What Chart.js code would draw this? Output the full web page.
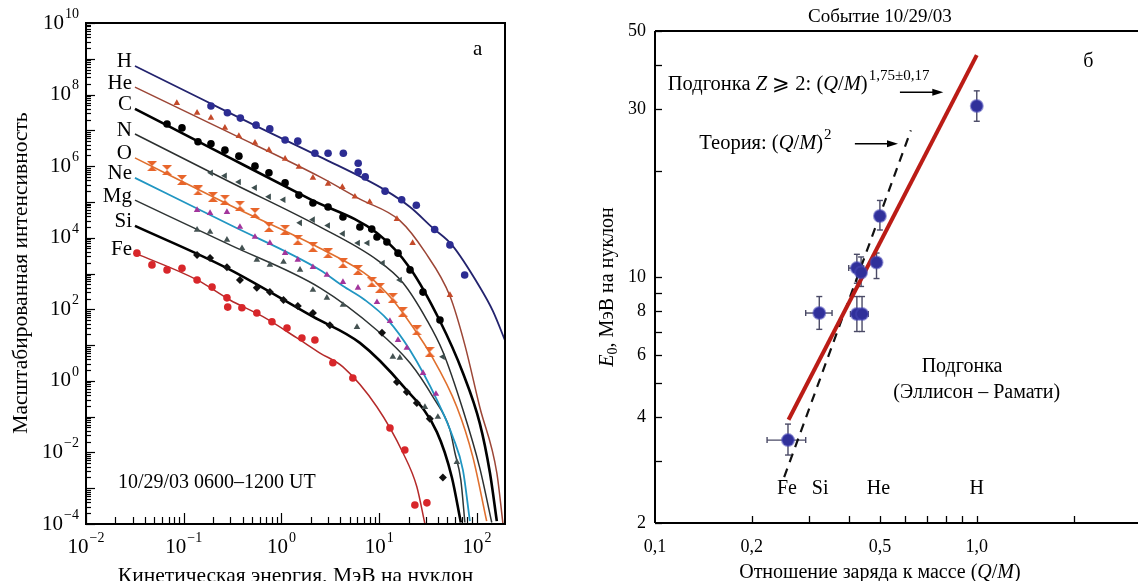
<!DOCTYPE html>
<html>
<head>
<meta charset="utf-8">
<script src="https://cdn.jsdelivr.net/npm/chart.js@4.4.1/dist/chart.umd.min.js"></script>
<style>
html, body { margin: 0; padding: 0; background: #fff; overflow: hidden; width: 1146px; height: 581px; }
canvas { position: absolute; top: 0; }
#left { left: 0; }
#right { left: 580px; }
</style>
</head>
<body>
<canvas id="left" width="560" height="581"></canvas>
<canvas id="right" width="566" height="581"></canvas>
<script>
// ---------- panel a: spectra, [energy MeV/n, scaled intensity] ----------
var elements = ['H', 'He', 'C', 'N', 'O', 'Ne', 'Mg', 'Si', 'Fe'];

// fitted curves
var hFit  = [[0.0317,6.3e8],[0.147,7.9e7],[0.603,1.17e7],[2.48,1.82e6],[11.5,2.14e5],[20.7,7.2e4],[35.5,1.86e4],[55.5,6.3e3],[107,420],[146,89],[200,11]];
var heFit = [[0.0317,1.62e8],[0.297,8.5e6],[2.48,5.0e5],[6.35,1.2e5],[16.3,3.0e4],[29.4,4.0e3],[53,234],[75.4,10],[107,0.186],[160,2.7e-3],[185,1.0e-4]];
var cFit  = [[0.0317,4.0e7],[0.297,1.7e6],[1.96,1.2e5],[9.5,1.35e4],[20.7,1.41e3],[41.9,47],[72,1.66],[107,0.066],[136,2.7e-3],[160,1.2e-4]];
var nFit  = [[0.0317,7.9e6],[0.297,3.6e5],[2.48,2.0e4],[9.5,2.4e3],[17.5,550],[30.8,50],[44.9,6.5],[72,0.155],[107,3.7e-3],[142,1.1e-4]];
var oFit  = [[0.0317,1.7e6],[0.297,8.1e4],[2.48,5.1e3],[8.04,794],[13.8,182],[22.1,32],[33,6.0],[62.4,0.186],[91,7.4e-3],[126,1.2e-4]];
var neFit = [[0.0317,4.7e5],[0.297,2.3e4],[2.48,1.26e3],[4.26,447],[7.15,182],[12.3,50],[20.7,7.2],[39,0.295],[56.8,0.027],[72,3.2e-3],[84.8,1.2e-4]];
var mgFit = [[0.0317,1.12e5],[0.297,6.3e3],[2.48,398],[9.5,26],[20.7,3.16],[35.5,0.355],[53,0.043],[59.6,9.8e-3],[68.5,1.7e-3],[75.4,1.1e-4]];
var siFit = [[0.0317,2.14e4],[0.277,1.41e3],[2.1,62],[6.35,11.5],[17.5,0.72],[39,0.037],[55.5,2.0e-3],[68.5,1.1e-4]];
var feFit = [[0.0317,3.7e3],[0.137,661],[0.297,182],[0.647,62],[1.44,15.8],[2.48,6.0],[4.26,2.45],[9.5,0.186],[17.5,9.8e-3],[24.3,1.1e-3],[29.4,1.0e-4]];

// measured points
var hPts  = [[0.19,4.8e7],[0.28,3.1e7],[0.38,2.2e7],[0.55,1.4e7],[0.76,1.1e7],[1.09,5.4e6],[1.47,5.0e6],[2.2,2.3e6],[3.0,2.3e6],[4.3,2.3e6],[6.1,1.2e6],[6.1,6.9e5],[7.2,5.0e5],[11.5,2.0e5],[17,1.15e5],[24,8.1e4],[37,1.7e4],[53,6.3e3],[75,910]];
var hePts = [[0.085,5.8e7],[0.137,3.1e7],[0.19,2.24e7],[0.264,1.17e7],[0.367,6.9e6],[0.536,4.5e6],[0.745,2.8e6],[1.09,1.6e6],[1.51,9.5e5],[2.1,4.7e5],[3.0,3.2e5],[4.2,2.6e5],[5.65,1.4e5],[8.0,1.0e5],[15.2,3.3e4],[22,7.1e3],[53,251]];
var cPts  = [[0.0675,1.5e7],[0.096,1.17e7],[0.14,4.8e6],[0.19,4.2e6],[0.264,2.8e6],[0.367,1.9e6],[0.536,1.0e6],[0.745,6.5e5],[1.09,3.4e5],[1.51,1.55e5],[2.1,9.3e4],[3.0,7.2e4],[4.26,3.8e4],[6.35,2.0e4],[8.4,1.74e4],[9.5,1.05e4],[12,7.6e3],[15.6,3.7e3],[20.7,1.26e3],[28.1,302],[41.9,50]];
var nPts  = [[0.19,6.5e5],[0.264,5.4e5],[0.367,3.6e5],[0.536,2.5e5],[0.745,1.4e5],[1.05,1.15e5],[1.55,2.6e4],[2.1,3.2e4],[3.0,2.2e4],[4.26,1.3e4],[6.07,7.1e3],[7.6,7.1e3],[10.9,1.95e3],[16.3,660],[44.9,4.7]];
var oPts  = [[0.0473,1.0e6],[0.0675,7.8e5],[0.096,4.1e5],[0.14,2.1e5],[0.199,1.38e5],[0.264,1.15e5],[0.376,7.8e4],[0.536,4.9e4],[0.745,2.0e4],[1.09,1.66e4],[1.47,8.7e3],[2.1,5.5e3],[3.0,3.7e3],[4.26,1.95e3],[6.07,1.26e3],[8.4,575],[10.2,398],[13.8,209],[17.5,85],[24.3,26],[33,6.5]];
var nePts = [[0.137,5.9e4],[0.186,4.9e4],[0.277,5.2e4],[0.376,2.0e4],[0.536,1.05e4],[0.762,7.1e3],[1.09,3.7e3],[1.47,2.4e3],[2.1,1.5e3],[2.92,912],[4.26,575],[6.07,398],[9.5,158],[12.9,47],[15.6,13.8],[19.2,8.3],[28.1,1.66],[38.1,0.43]];
var mgPts = [[0.137,1.66e4],[0.186,1.45e4],[0.277,8.7e3],[0.395,5.1e3],[0.56,2.4e3],[0.762,1.74e3],[1.05,2.1e3],[1.55,1.26e3],[2.1,347],[2.92,209],[4.26,132],[5.93,32],[13.8,4.7],[16.3,4.4],[29.4,0.186],[39.9,0.098],[62.4,5.4e-3]];
var siPts = [[0.137,3.3e3],[0.186,2.7e3],[0.277,1.5e3],[0.376,660],[0.56,398],[0.762,302],[1.05,182],[1.47,123],[2.1,79],[3.13,36],[10.7,22],[15.2,0.93],[19.2,0.49],[24.3,0.24],[33,0.087],[44.9,2.0e-3]];
var fePts = [[0.0332,3.7e3],[0.0473,1.74e3],[0.0675,1.26e3],[0.096,1.4e3],[0.137,660],[0.195,417],[0.277,209],[0.282,115],[0.394,110],[0.56,79],[0.8,45],[1.14,30],[1.62,15.8],[2.2,13.8],[3.36,3.2],[5.38,1.2],[12.9,0.048],[18.3,0.0117],[23.2,3.4e-4],[30.8,3.9e-4]];

var leftYExp = [-4, -2, 0, 2, 4, 6, 8, 10];
var leftXExp = [-2, -1, 0, 1, 2];

// ---------- panel b: E0 vs Q/M ----------
var qm    = [0.259, 0.324, 0.424, 0.44, 0.424, 0.437, 0.488, 0.50, 1.0];
var e0    = [3.44, 7.9, 7.85, 7.85, 10.6, 10.3, 11.0, 14.9, 30.6];
var e0Lo  = [3.12, 7.1, 7.0, 7.0, 9.6, 9.4, 9.9, 13.6, 27.7];
var e0Hi  = [3.82, 8.8, 8.8, 8.8, 11.6, 11.4, 11.7, 16.5, 33.8];
var qmLo  = [0.223, 0.294, 0.405, 0.42, 0.40, 0.425, 0.475, 0.49, 0.98];
var qmHi  = [0.294, 0.355, 0.44, 0.46, 0.445, 0.45, 0.50, 0.51, 1.02];
var fitQM = [0.26, 1.0],   fitE0 = [3.93, 42.7];
var thQM  = [0.252, 0.624], thE0 = [2.70, 26.1];
var ionNames = ['Fe', 'Si', 'He', 'H'];
var ionQM    = [0.257, 0.326, 0.495, 1.0];
var rightYTicks = [2, 3, 4, 5, 6, 7, 8, 9, 10, 20, 30, 40, 50];
var rightYLabels = [2, 4, 6, 8, 10, 30, 50];
var rightXTicks = [0.2, 0.3, 0.4, 0.5, 0.6, 0.7, 0.8, 0.9, 1, 2];
var rightXLabels = [[0.1, '0,1'], [0.2, '0,2'], [0.5, '0,5'], [1, '1,0']];

var serif = "'Liberation Serif', 'Times New Roman', serif";

function pairs(a, b) { return a.map(function (v, i) { return [v, b[i]]; }); }
function seg(ctx, x1, y1, x2, y2) { ctx.beginPath(); ctx.moveTo(x1, y1); ctx.lineTo(x2, y2); ctx.stroke(); }

// text made of pieces: italic, superscript, subscript
function rich(ctx, parts, x, y, size, align, supRatio) {
  var w = 0, r = supRatio || 0.68;
  function font(p) {
    var s = (p.sup || p.sub) ? Math.round(size * r) : size;
    return (p.it ? 'italic ' : '') + s + 'px ' + serif;
  }
  parts.forEach(function (p) { ctx.font = font(p); p.w = ctx.measureText(p.t).width + (p.gap || 0); w += p.w; });
  var cx = align === 'center' ? x - w / 2 : (align === 'right' ? x - w : x);
  ctx.textAlign = 'left';
  ctx.textBaseline = 'middle';
  parts.forEach(function (p) {
    ctx.font = font(p);
    var dy = p.sup ? -size * 0.42 : (p.sub ? size * 0.28 : 0);
    ctx.fillText(p.t, cx, y + dy);
    cx += p.w;
  });
}
function pow10(ctx, e, x, y, align, size) {
  rich(ctx, [{ t: '10', gap: 1 }, { t: e < 0 ? '\u2212' + (-e) : String(e), sup: true }], x, y, size, align);
}

// bow-tie marker for O
function bowtie(color) {
  var c = document.createElement('canvas');
  c.width = 10; c.height = 10;
  var g = c.getContext('2d');
  g.fillStyle = color;
  g.beginPath(); g.moveTo(0, 0); g.lineTo(10, 0); g.lineTo(5, 5); g.closePath(); g.fill();
  g.beginPath(); g.moveTo(0, 10); g.lineTo(10, 10); g.lineTo(5, 5); g.closePath(); g.fill();
  return c;
}

var fits = [hFit, heFit, cFit, nFit, oFit, neFit, mgFit, siFit, feFit];
var pts = [hPts, hePts, cPts, nPts, oPts, nePts, mgPts, siPts, fePts];
var lineColors = ['#23236e', '#9c4636', '#000000', '#2b2f2f', '#e0702e', '#2196c2', '#2e3434', '#000000', '#b52a2a'];
var lineWidths = [1.8, 1.5, 2.6, 1.5, 1.6, 1.8, 1.5, 2.6, 1.5];
var ptColors = ['#2c2c92', '#c44a2a', '#000000', '#3e4f4f', '#e8652a', '#a2359c', '#445252', '#111111', '#d8262a'];
var ptStyles = ['circle', 'triangle', 'circle', 'triangle', bowtie('#e8652a'), 'triangle', 'triangle', 'rectRot', 'circle'];
var ptRot = [0, 0, 0, 270, 0, 0, 0, 0, 0];

var leftSets = [];
elements.forEach(function (el, i) {
  leftSets.push({
    label: el + ' points', data: pts[i], showLine: false,
    pointStyle: ptStyles[i], rotation: ptRot[i], pointRadius: ptStyles[i] === 'rectRot' ? 4 : 3.8,
    backgroundColor: ptColors[i], borderColor: ptColors[i], borderWidth: 0
  });
});
elements.forEach(function (el, i) {
  leftSets.push({
    label: el + ' fit', data: fits[i], showLine: true, pointRadius: 0,
    borderColor: lineColors[i], borderWidth: lineWidths[i], cubicInterpolationMode: 'monotone'
  });
});

var leftDecor = {
  id: 'leftDecor',
  afterDraw: function (chart) {
    var ctx = chart.ctx, a = chart.chartArea, sx = chart.scales.x, sy = chart.scales.y;
    ctx.save();
    ctx.strokeStyle = '#000'; ctx.fillStyle = '#000';
    ctx.lineWidth = 1.2;
    for (var d = -4; d <= 10; d++) {
      for (var m = 1; m <= 9; m++) {
        if (d === 10 && m > 1) break;
        var py = Math.round(sy.getPixelForValue(m * Math.pow(10, d))) + 0.5;
        seg(ctx, a.left, py, a.left + (m === 1 ? 9 : 5), py);
      }
    }
    for (d = -2; d <= 2; d++) {
      for (m = 1; m <= 9; m++) {
        var v = m * Math.pow(10, d);
        if (v > sx.max) break;
        var px = Math.round(sx.getPixelForValue(v)) + 0.5;
        seg(ctx, px, a.bottom, px, a.bottom - (m === 1 ? 11 : 7));
      }
    }
    ctx.lineWidth = 2;
    ctx.strokeRect(a.left, a.top, a.right - a.left, a.bottom - a.top);

    leftYExp.forEach(function (e) { pow10(ctx, e, a.left - 7, sy.getPixelForValue(Math.pow(10, e)), 'right', 21); });
    leftXExp.forEach(function (e) { pow10(ctx, e, sx.getPixelForValue(Math.pow(10, e)), a.bottom + 23, 'center', 21); });

    // element names at the start of each curve
    elements.forEach(function (el, i) {
      rich(ctx, [{ t: el }], sx.getPixelForValue(fits[i][0][0]) - 3, sy.getPixelForValue(fits[i][0][1]) - 4, 21, 'right');
    });
    rich(ctx, [{ t: 'а' }], sx.getPixelForValue(102), sy.getPixelForValue(1.8e9), 21, 'center');
    rich(ctx, [{ t: '10/29/03 0600–1200 UT' }], sx.getPixelForValue(0.0212), sy.getPixelForValue(1.4e-3), 20, 'left');

    // axis titles
    rich(ctx, [{ t: 'Кинетическая энергия, МэВ на нуклон' }], (a.left + a.right) / 2, 576, 21.5, 'center');
    ctx.translate(21, 273);
    ctx.rotate(-Math.PI / 2);
    rich(ctx, [{ t: 'Масштабированная интенсивность' }], 0, 0, 21.5, 'center');
    ctx.restore();
  }
};

new Chart(document.getElementById('left'), {
  type: 'scatter',
  data: { datasets: leftSets },
  options: {
    responsive: false, animation: false, devicePixelRatio: 1,
    layout: { padding: { left: 86, top: 23, right: 55, bottom: 57 } },
    plugins: { legend: { display: false }, tooltip: { enabled: false } },
    scales: {
      x: { type: 'logarithmic', min: 0.01, max: 194, display: false },
      y: { type: 'logarithmic', min: 1e-4, max: 1e10, display: false }
    }
  },
  plugins: [leftDecor]
});

// ---------- right chart ----------
var errBars = {
  id: 'errBars',
  beforeDatasetsDraw: function (chart) {
    var ctx = chart.ctx, sx = chart.scales.x, sy = chart.scales.y;
    ctx.save();
    ctx.strokeStyle = '#4a4a66';
    ctx.lineWidth = 1.4;
    qm.forEach(function (q, i) {
      var px = sx.getPixelForValue(q), py = sy.getPixelForValue(e0[i]);
      var y1 = sy.getPixelForValue(e0Lo[i]), y2 = sy.getPixelForValue(e0Hi[i]);
      var x1 = sx.getPixelForValue(qmLo[i]), x2 = sx.getPixelForValue(qmHi[i]);
      seg(ctx, px, y1, px, y2);
      seg(ctx, px - 3, y1, px + 3, y1);
      seg(ctx, px - 3, y2, px + 3, y2);
      seg(ctx, x1, py, x2, py);
      seg(ctx, x1, py - 3, x1, py + 3);
      seg(ctx, x2, py - 3, x2, py + 3);
    });
    ctx.restore();
  }
};

function arrow(ctx, x1, y, x2) {
  seg(ctx, x1, y, x2 - 6, y);
  ctx.beginPath(); ctx.moveTo(x2, y); ctx.lineTo(x2 - 11, y - 3.5); ctx.lineTo(x2 - 11, y + 3.5); ctx.closePath(); ctx.fill();
}

var rightDecor = {
  id: 'rightDecor',
  afterDraw: function (chart) {
    var ctx = chart.ctx, a = chart.chartArea, sx = chart.scales.x, sy = chart.scales.y;
    ctx.save();
    ctx.strokeStyle = '#000'; ctx.fillStyle = '#000';
    ctx.lineWidth = 1.3;
    rightYTicks.forEach(function (v) {
      var py = Math.round(sy.getPixelForValue(v)) + 0.5;
      seg(ctx, a.left, py, a.left + 7, py);
    });
    rightXTicks.forEach(function (v) {
      var px = Math.round(sx.getPixelForValue(v)) + 0.5;
      seg(ctx, px, a.bottom, px, a.bottom - 7);
    });
    ctx.lineWidth = 2;
    seg(ctx, a.left, a.top, a.right, a.top);
    seg(ctx, a.left, a.top, a.left, a.bottom);
    seg(ctx, a.left, a.bottom, a.right, a.bottom);

    rightYLabels.forEach(function (v) { rich(ctx, [{ t: String(v) }], a.left - 9, sy.getPixelForValue(v), 18, 'right'); });
    rightXLabels.forEach(function (l) { rich(ctx, [{ t: l[1] }], sx.getPixelForValue(l[0]), a.bottom + 24, 18, 'center'); });

    rich(ctx, [{ t: 'Событие 10/29/03' }], sx.getPixelForValue(0.5), 17, 19, 'center');
    rich(ctx, [{ t: 'б' }], sx.getPixelForValue(2.22), sy.getPixelForValue(40.8), 20, 'center');

    rich(ctx, [{ t: 'Подгонка ' }, { t: 'Z', it: true }, { t: ' ⩾ 2: (' }, { t: 'Q', it: true }, { t: '/' }, { t: 'M', it: true }, { t: ')', gap: 1 }, { t: '1,75±0,17', sup: true }],
      sx.getPixelForValue(0.1096), sy.getPixelForValue(35.1), 20.5, 'left', 0.74);
    rich(ctx, [{ t: 'Теория: (' }, { t: 'Q', it: true }, { t: '/' }, { t: 'M', it: true }, { t: ')', gap: 1 }, { t: '2', sup: true }],
      sx.getPixelForValue(0.1373), sy.getPixelForValue(24.0), 20.5, 'left', 0.74);
    ctx.lineWidth = 1.5;
    arrow(ctx, sx.getPixelForValue(0.577), sy.getPixelForValue(33.5), sx.getPixelForValue(0.787));
    arrow(ctx, sx.getPixelForValue(0.418), sy.getPixelForValue(23.9), sx.getPixelForValue(0.569));

    rich(ctx, [{ t: 'Подгонка' }], sx.getPixelForValue(0.90), sy.getPixelForValue(5.55), 20, 'center');
    rich(ctx, [{ t: '(Эллисон – Рамати)' }], sx.getPixelForValue(1.0), sy.getPixelForValue(4.68), 20, 'center');

    ionNames.forEach(function (n, i) { rich(ctx, [{ t: n }], sx.getPixelForValue(ionQM[i]), sy.getPixelForValue(2.5), 20, 'center'); });

    rich(ctx, [{ t: 'Отношение заряда к массе (' }, { t: 'Q', it: true }, { t: '/' }, { t: 'M', it: true }, { t: ')' }], sx.getPixelForValue(0.5), 573, 20, 'center');
    ctx.translate(a.left - 47, 287);
    ctx.rotate(-Math.PI / 2);
    rich(ctx, [{ t: 'E', it: true }, { t: '0', sub: true }, { t: ', МэВ на нуклон' }], 0, 0, 20, 'center');
    ctx.restore();
  }
};

new Chart(document.getElementById('right'), {
  type: 'scatter',
  data: {
    datasets: [
      { label: 'E0', data: pairs(qm, e0), pointRadius: 6, backgroundColor: '#30309a', borderColor: 'rgba(70,70,180,0.55)', borderWidth: 2 },
      { label: 'Подгонка', data: pairs(fitQM, fitE0), showLine: true, pointRadius: 0, borderColor: '#bb1c16', borderWidth: 4 },
      { label: 'Теория', data: pairs(thQM, thE0), showLine: true, pointRadius: 0, borderColor: '#111', borderWidth: 2.2, borderDash: [9, 7] }
    ]
  },
  options: {
    responsive: false, animation: false, devicePixelRatio: 1,
    layout: { padding: { left: 75, top: 31, right: 0, bottom: 58 } },
    plugins: { legend: { display: false }, tooltip: { enabled: false } },
    scales: {
      x: { type: 'logarithmic', min: 0.1, max: 3.17, display: false },
      y: { type: 'logarithmic', min: 2, max: 50, display: false }
    }
  },
  plugins: [errBars, rightDecor]
});
</script>
</body>
</html>
